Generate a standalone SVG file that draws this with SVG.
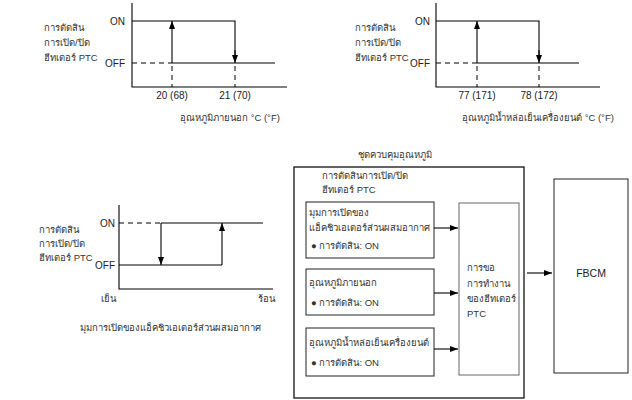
<svg xmlns="http://www.w3.org/2000/svg" width="632" height="400" viewBox="0 0 632 400">
<defs>
<marker id="ah" viewBox="0 0 8 6" refX="8" refY="3" markerWidth="8" markerHeight="6" markerUnits="userSpaceOnUse" orient="auto">
<path d="M0,0 L8,3 L0,6 Z" fill="#000"/>
</marker>
<style>
text{font-family:"Liberation Sans","Noto Sans",sans-serif;font-size:9.5px;fill:#333}
.lbl{font-size:10px;fill:#222}
.ln{fill:none;stroke:#000;stroke-width:1.1}
.ds{fill:none;stroke:#000;stroke-width:1;stroke-dasharray:5,4}
.ar{fill:none;stroke:#000;stroke-width:1.1;marker-end:url(#ah)}
.bx{fill:#fff;stroke:#222;stroke-width:1}
.mid{text-anchor:middle}
.end{text-anchor:end}
</style>
</defs>
<rect width="632" height="400" fill="#fff"/>

<g id="chart-outside-temp">
<path class="ln" d="M132,3 V87 H287"/>
<path class="ln" d="M132,21 H235 V58"/>
<path class="ar" d="M235,50 V63"/>
<path class="ln" d="M172,63 H275"/>
<path class="ar" d="M172,63 V21"/>
<path class="ds" d="M132,63 H172 M172,66 V87 M235,66 V87"/>
<text class="lbl end" x="125" y="25">ON</text>
<text class="lbl end" x="125" y="67">OFF</text>
<text class="lbl mid" x="172" y="99">20 (68)</text>
<text class="lbl mid" x="235" y="99">21 (70)</text>
<text x="44" y="31">การตัดสิน</text>
<text x="44" y="46">การเปิด/ปิด</text>
<text x="44" y="61">ฮีทเตอร์ PTC</text>
<text x="180" y="121">อุณหภูมิภายนอก °C (°F)</text>
</g>

<g id="chart-coolant-temp">
<path class="ln" d="M436,3 V87 H600"/>
<path class="ln" d="M436,21 H539 V58"/>
<path class="ar" d="M539,50 V63"/>
<path class="ln" d="M477,63 H579"/>
<path class="ar" d="M477,63 V21"/>
<path class="ds" d="M436,63 H477 M477,66 V87 M539,66 V87"/>
<text class="lbl end" x="430" y="25">ON</text>
<text class="lbl end" x="430" y="67">OFF</text>
<text class="lbl mid" x="477" y="99">77 (171)</text>
<text class="lbl mid" x="539" y="99">78 (172)</text>
<text x="355" y="31">การตัดสิน</text>
<text x="355" y="46">การเปิด/ปิด</text>
<text x="355" y="61">ฮีทเตอร์ PTC</text>
<text x="462" y="121">อุณหภูมิน้ำหล่อเย็นเครื่องยนต์ °C (°F)</text>
</g>

<g id="chart-airmix">
<path class="ln" d="M119,205 V289 H273"/>
<path class="ds" d="M119,223 H161"/>
<path class="ln" d="M161,223 H263"/>
<path class="ar" d="M161,223 V265"/>
<path class="ln" d="M119,265 H222"/>
<path class="ar" d="M222,265 V223"/>
<text class="lbl end" x="115" y="227">ON</text>
<text class="lbl end" x="115" y="269">OFF</text>
<text x="39" y="233">การตัดสิน</text>
<text x="39" y="247">การเปิด/ปิด</text>
<text x="39" y="261">ฮีทเตอร์ PTC</text>
<text x="101" y="302">เย็น</text>
<text x="258" y="302">ร้อน</text>
<text x="80" y="331">มุมการเปิดของแอ็คชิวเอเตอร์ส่วนผสมอากาศ</text>
</g>

<g id="temp-control-unit">
<text class="mid" x="395" y="158">ชุดควบคุมอุณหภูมิ</text>
<rect x="294" y="167" width="230" height="231" fill="none" stroke="#111" stroke-width="1.3"/>
<text x="322" y="179">การตัดสินการเปิด/ปิด</text>
<text x="322" y="193">ฮีทเตอร์ PTC</text>
</g>

<g id="box-airmix">
<rect class="bx" x="306" y="202" width="128" height="56"/>
<text x="309" y="216">มุมการเปิดของ</text>
<text x="309" y="231">แอ็คชิวเอเตอร์ส่วนผสมอากาศ</text>
<text x="311" y="249">● การตัดสิน: ON</text>
</g>

<g id="box-outside">
<rect class="bx" x="306" y="269" width="128" height="46"/>
<text x="309" y="286">อุณหภูมิภายนอก</text>
<text x="311" y="306">● การตัดสิน: ON</text>
</g>

<g id="box-coolant">
<rect class="bx" x="306" y="328" width="128" height="48"/>
<text x="309" y="346">อุณหภูมิน้ำหล่อเย็นเครื่องยนต์</text>
<text x="311" y="366">● การตัดสิน: ON</text>
</g>

<g id="box-request">
<rect x="459" y="203" width="60" height="172" fill="#fff" stroke="#666" stroke-width="1"/>
<text x="467" y="271">การขอ</text>
<text x="467" y="287">การทำงาน</text>
<text x="467" y="302">ของฮีทเตอร์</text>
<text x="467" y="317">PTC</text>
</g>

<g id="box-fbcm">
<rect x="554" y="179" width="74" height="194" fill="#fff" stroke="#222" stroke-width="1"/>
<text class="mid lbl" x="591" y="277" style="font-size:10.5px">FBCM</text>
</g>

<g id="connectors">
<path class="ar" d="M434,228 H458"/>
<path class="ar" d="M434,293 H458"/>
<path class="ar" d="M434,349 H458"/>
<path class="ar" d="M527,273 H552"/>
</g>
</svg>
